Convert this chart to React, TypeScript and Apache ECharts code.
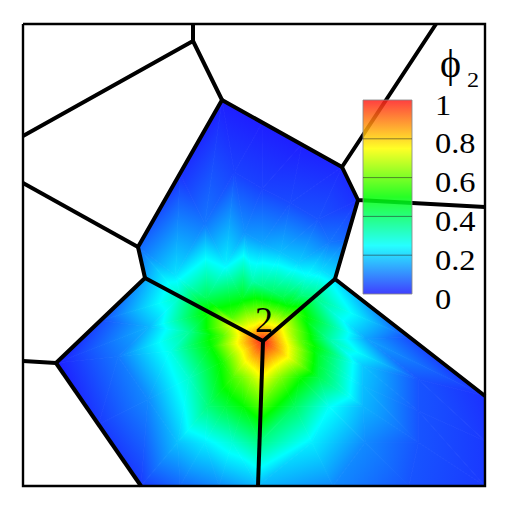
import React, { useEffect, useRef } from "react";
import * as echarts from "echarts";

// ---- domain: the plotted window, 462 x 462 units, y grows downward ----
const DOMAIN_MAX = 462;

// ---- mesh edges (polyline chains), domain units ----
const edgeChains: number[][][] = [
  [[170, 0], [170, 17], [0, 112]],
  [[170, 17], [199, 76], [115, 223], [122, 254], [33, 339], [0, 337]],
  [[199, 76], [319, 143], [413, 0]],
  [[319, 143], [335, 176], [462, 183]],
  [[335, 176], [312, 255], [462, 372]],
  [[0, 159], [115, 223]],
  [[122, 254], [240, 317], [312, 255]],
  [[240, 317], [235, 462]],
  [[33, 339], [118, 462]],
];
const frameLoop: number[][] = [[0, 0], [462, 0], [462, 462], [0, 462], [0, 0]];

// ---- node 2 ----
const nodePoint = [240, 317];
const nodeValue = 1;
const nodeLabel = "2";

// ---- sampling of phi_2 inside the three cells sharing node 2 ----
// rays from node 2 to points of the cell boundary, sampled at ring fractions
const ringFractions = [0, 0.1, 0.25, 0.45, 0.7, 1];

const topCellRays = [
  [122, 254], [115, 223], [157, 149.5], [199, 76], [239, 99],
  [279, 120], [319, 143], [335, 176], [323.5, 215.5], [312, 255],
];
const topCellPhi = [
  [0.88, 0.73, 0.53, 0.32, 0.15],
  [0.8, 0.58, 0.42, 0.22, 0.08],
  [0.74, 0.48, 0.24, 0.1, 0.02],
  [0.68, 0.33, 0.13, 0.04, 0.0],
  [0.7, 0.37, 0.15, 0.04, 0.0],
  [0.72, 0.4, 0.18, 0.05, 0.0],
  [0.74, 0.43, 0.2, 0.06, 0.01],
  [0.77, 0.5, 0.27, 0.1, 0.02],
  [0.83, 0.6, 0.38, 0.21, 0.08],
  [0.9, 0.75, 0.57, 0.38, 0.22],
];

const leftCellRays = [
  [122, 254], [77.5, 296.5], [33, 339], [75.5, 400.5],
  [118, 462], [157, 462], [196, 462], [235, 462],
];
const leftCellPhi = [
  [0.88, 0.73, 0.53, 0.32, 0.15],
  [0.84, 0.58, 0.36, 0.17, 0.05],
  [0.8, 0.5, 0.27, 0.1, 0.0],
  [0.8, 0.52, 0.3, 0.12, 0.03],
  [0.82, 0.57, 0.38, 0.18, 0.03],
  [0.85, 0.62, 0.44, 0.23, 0.08],
  [0.87, 0.68, 0.5, 0.29, 0.12],
  [0.9, 0.75, 0.58, 0.37, 0.17],
];

const rightCellRays = [
  [312, 255], [387, 313.5], [462, 372], [462, 417],
  [462, 462], [386, 462], [310, 462], [235, 462],
];
const rightCellPhi = [
  [0.9, 0.75, 0.57, 0.38, 0.22],
  [0.84, 0.6, 0.34, 0.15, 0.05],
  [0.78, 0.46, 0.19, 0.06, 0.02],
  [0.78, 0.45, 0.18, 0.06, 0.03],
  [0.78, 0.43, 0.17, 0.06, 0.03],
  [0.82, 0.52, 0.26, 0.12, 0.06],
  [0.86, 0.63, 0.41, 0.23, 0.12],
  [0.9, 0.75, 0.58, 0.37, 0.17],
];

// ---- colour scale / legend ----
const colorLevels = [0, 0.25, 0.5, 0.75, 1];
const colorScale = ["#1e1eff", "#00ffff", "#00ff00", "#ffff00", "#ff1e1e"];
const colorbarTicks = [0, 0.2, 0.4, 0.6, 0.8, 1];
const colorbarTickLabels = ["0", "0.2", "0.4", "0.6", "0.8", "1"];
const legendSymbol = "\u03d5";
const legendSubscript = "2";

const FAMILY = "'Liberation Serif', 'DejaVu Serif', serif";

function hexToRgb(h: string) {
  return [parseInt(h.slice(1, 3), 16), parseInt(h.slice(3, 5), 16), parseInt(h.slice(5, 7), 16)];
}
const scaleRgb = colorScale.map(hexToRgb);

function valueColor(v: number) {
  const x = Math.max(0, Math.min(1, v));
  let i = 0;
  while (i < colorLevels.length - 2 && x > colorLevels[i + 1]) i++;
  const t = (x - colorLevels[i]) / (colorLevels[i + 1] - colorLevels[i]);
  const a = scaleRgb[i];
  const b = scaleRgb[i + 1];
  const c = a.map((av, k) => Math.round(av + (b[k] - av) * t));
  return `rgb(${c[0]},${c[1]},${c[2]})`;
}

function buildTriangles(rays: number[][], phi: number[][]) {
  const pt = (k: number, j: number) =>
    j === 0
      ? nodePoint
      : [
          nodePoint[0] + ringFractions[j] * (rays[k][0] - nodePoint[0]),
          nodePoint[1] + ringFractions[j] * (rays[k][1] - nodePoint[1]),
        ];
  const val = (k: number, j: number) => (j === 0 ? nodeValue : phi[k][j - 1]);
  const tris: number[][] = [];
  for (let k = 0; k < rays.length - 1; k++) {
    for (let j = 0; j < ringFractions.length - 1; j++) {
      if (j === 0) {
        tris.push([...pt(k, 0), val(k, 0), ...pt(k, 1), val(k, 1), ...pt(k + 1, 1), val(k + 1, 1)]);
      } else {
        tris.push([...pt(k, j), val(k, j), ...pt(k + 1, j), val(k + 1, j), ...pt(k + 1, j + 1), val(k + 1, j + 1)]);
        tris.push([...pt(k, j), val(k, j), ...pt(k + 1, j + 1), val(k + 1, j + 1), ...pt(k, j + 1), val(k, j + 1)]);
      }
    }
  }
  return tris;
}

function shade(P: number[][], V: number[]): any {
  const vmin = Math.min(...V);
  const vmax = Math.max(...V);
  if (vmax - vmin < 1e-6) return valueColor(vmin);
  const d1x = P[1][0] - P[0][0], d1y = P[1][1] - P[0][1];
  const d2x = P[2][0] - P[0][0], d2y = P[2][1] - P[0][1];
  const dv1 = V[1] - V[0], dv2 = V[2] - V[0];
  const det = d1x * d2y - d1y * d2x;
  if (Math.abs(det) < 1e-9) return valueColor((vmin + vmax) / 2);
  const gx = (dv1 * d2y - d1y * dv2) / det;
  const gy = (d1x * dv2 - d2x * dv1) / det;
  const g2 = gx * gx + gy * gy;
  const iMin = V.indexOf(vmin);
  const sx = P[iMin][0], sy = P[iMin][1];
  const ex = sx + (gx * (vmax - vmin)) / g2;
  const ey = sy + (gy * (vmax - vmin)) / g2;
  const stops = [{ offset: 0, color: valueColor(vmin) }];
  colorLevels.forEach((l) => {
    if (l > vmin && l < vmax) stops.push({ offset: (l - vmin) / (vmax - vmin), color: valueColor(l) });
  });
  stops.push({ offset: 1, color: valueColor(vmax) });
  return { type: "linear", x: sx, y: sy, x2: ex, y2: ey, colorStops: stops, global: true };
}

function textStyle(text: string, size: number) {
  return {
    text,
    fontSize: size,
    fontFamily: FAMILY,
    fill: "#000",
    align: "left",
    verticalAlign: "middle",
  };
}

export default function App() {
  const ref = useRef<HTMLDivElement>(null);

  useEffect(() => {
    if (!ref.current) return;
    const chart = echarts.init(ref.current, undefined, { renderer: "svg" });

    const triangles = [
      ...buildTriangles(topCellRays, topCellPhi),
      ...buildTriangles(leftCellRays, leftCellPhi),
      ...buildTriangles(rightCellRays, rightCellPhi),
    ];

    const cb = { x: 363, y: 100, w: 49, h: 194 };
    const tickY = (v: number) => cb.y + cb.h - v * cb.h;

    const graphic: any[] = [
      {
        type: "rect",
        z: 10,
        shape: { x: cb.x, y: cb.y, width: cb.w, height: cb.h },
        style: {
          fill: new echarts.graphic.LinearGradient(
            0, 1, 0, 0,
            colorLevels.map((l, i) => ({ offset: l, color: colorScale[i] }))
          ),
          stroke: "#8a8a8a",
          lineWidth: 1,
          opacity: 0.85,
        },
      },
    ];
    colorbarTicks.forEach((v, i) => {
      if (v > 0 && v < 1) {
        graphic.push({
          type: "line",
          z: 11,
          shape: { x1: cb.x, y1: tickY(v), x2: cb.x + cb.w, y2: tickY(v) },
          style: { stroke: "rgba(40,40,40,0.55)", lineWidth: 1 },
        });
      }
      graphic.push({
        type: "text",
        z: 11,
        x: 435,
        y: tickY(v) + 4.5,
        scaleX: 1.08,
        style: textStyle(colorbarTickLabels[i], 30),
      });
    });
    graphic.push({ type: "text", z: 11, x: 440, y: 63, style: textStyle(legendSymbol, 40) });
    graphic.push({ type: "text", z: 11, x: 467, y: 79, scaleX: 1.1, style: textStyle(legendSubscript, 22) });

    const option: any = {
      animation: false,
      backgroundColor: "#ffffff",
      grid: { left: 23, top: 24, width: 462, height: 462, show: false },
      xAxis: { type: "value", min: 0, max: DOMAIN_MAX, show: false },
      yAxis: { type: "value", min: 0, max: DOMAIN_MAX, inverse: true, show: false },
      graphic,
      series: [
        {
          type: "custom",
          name: "phi2",
          z: 1,
          silent: true,
          clip: false,
          data: triangles,
          renderItem: (params: any, api: any) => {
            const P = [0, 1, 2].map((i) => api.coord([api.value(3 * i), api.value(3 * i + 1)]));
            const V = [0, 1, 2].map((i) => api.value(3 * i + 2));
            const fill = shade(P, V);
            return {
              type: "polygon",
              shape: { points: P },
              style: { fill, stroke: fill, lineWidth: 0.8 },
            };
          },
        },
        {
          type: "custom",
          name: "edges",
          z: 3,
          silent: true,
          clip: false,
          data: edgeChains.map((_, i) => [i, 0]),
          renderItem: (params: any, api: any) => {
            const chain = edgeChains[api.value(0)];
            return {
              type: "polyline",
              shape: { points: chain.map((p) => api.coord(p)) },
              style: { stroke: "#000", lineWidth: 4, fill: null, lineJoin: "round" },
            };
          },
        },
        {
          type: "custom",
          name: "frame",
          z: 5,
          silent: true,
          clip: false,
          data: [[0, 0]],
          renderItem: (params: any, api: any) => ({
            type: "polyline",
            shape: { points: frameLoop.map((p) => api.coord(p)) },
            style: { stroke: "#000", lineWidth: 2.4, fill: null, lineJoin: "miter" },
          }),
        },
        {
          type: "custom",
          name: "node",
          z: 6,
          silent: true,
          clip: false,
          data: [nodePoint],
          renderItem: (params: any, api: any) => {
            const c = api.coord([api.value(0), api.value(1)]);
            return {
              type: "text",
              x: c[0] - 8,
              y: c[1] - 21,
              style: textStyle(nodeLabel, 36),
            };
          },
        },
      ],
    };

    chart.setOption(option);
    return () => chart.dispose();
  }, []);

  return (
    <div
      ref={ref}
      style={{ position: "fixed", left: 0, top: 0, width: 516, height: 514, background: "#fff" }}
    />
  );
}
